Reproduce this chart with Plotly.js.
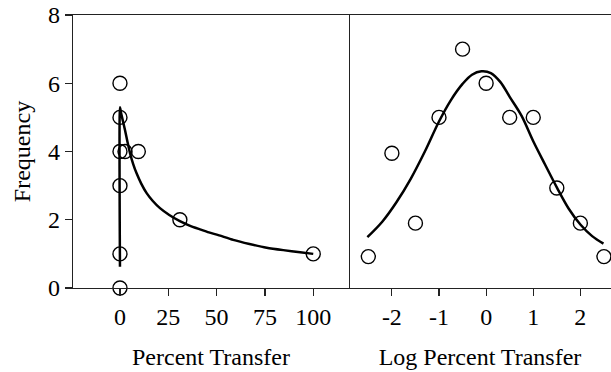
<!DOCTYPE html>
<html>
<head>
<meta charset="utf-8">
<script src="https://cdn.plot.ly/plotly-3.0.1.min.js"></script>
<style>html,body{margin:0;padding:0;background:#fff;}#chart{width:611px;height:372px;}</style>
</head>
<body>
<div id="chart"></div>
<script>
// Left panel: percent transfer histogram points
const pctX = [0, 0, 0, 0, 0, 0, 2.6, 9.5, 31, 100];
const pctY = [0, 1, 3, 4, 5, 6, 4, 4, 2, 1];
// Left panel fitted curve
const pctCurveX = [0, 0, 0.5, 1.5, 2.6, 3.9, 5.2, 6.8, 8.6, 11, 13.8, 17, 20.7, 25.5, 31, 36, 41.4, 46, 50.9, 58.6, 67, 75.9, 84.5, 93.2, 100];
const pctCurveY = [0.62, 5.3, 5.15, 4.9, 4.63, 4.28, 3.95, 3.64, 3.36, 3.06, 2.78, 2.55, 2.34, 2.14, 1.96, 1.83, 1.72, 1.63, 1.55, 1.41, 1.29, 1.18, 1.11, 1.05, 1.0];
// Right panel: log percent transfer histogram points
const logX = [-2.5, -2, -1.5, -1, -0.5, 0, 0.5, 1, 1.5, 2, 2.5];
const logY = [0.92, 3.95, 1.9, 5, 7, 6, 5, 5, 2.93, 1.9, 0.92];
// Right panel fitted curve
const logCurveX = [-2.52, -2.2, -1.9, -1.6, -1.3, -1.0, -0.75, -0.5, -0.3, -0.1, 0.1, 0.3, 0.5, 0.75, 1.0, 1.25, 1.5, 1.75, 2.0, 2.25, 2.49];
const logCurveY = [1.49, 1.95, 2.52, 3.2, 4.0, 4.88, 5.5, 5.98, 6.25, 6.35, 6.3, 6.04, 5.6, 5.05, 4.3, 3.62, 2.95, 2.33, 1.86, 1.52, 1.3];
// Tick labels
const pctTicks = [0, 25, 50, 75, 100];
const logTicks = [-2, -1, 0, 1, 2];
const logTickText = ["-2", "-1", "0", "1", "2"];
const yTicks = [0, 2, 4, 6, 8];

const FONT = "Liberation Serif";
const FS = 24;
const marker = {symbol: 'circle-open', size: 14, color: '#000', line: {width: 1.4, color: '#000'}};

const data = [
  {x: pctCurveX, y: pctCurveY, xaxis: 'x', yaxis: 'y', mode: 'lines', line: {color: '#000', width: 2.5, shape: 'spline', smoothing: 0.6}, hoverinfo: 'skip'},
  {x: pctX, y: pctY, xaxis: 'x', yaxis: 'y', mode: 'markers', marker: marker, cliponaxis: false},
  {x: logCurveX, y: logCurveY, xaxis: 'x2', yaxis: 'y2', mode: 'lines', line: {color: '#000', width: 2.5, shape: 'spline', smoothing: 1}, hoverinfo: 'skip'},
  {x: logX, y: logY, xaxis: 'x2', yaxis: 'y2', mode: 'markers', marker: marker, cliponaxis: false}
];

const d = 276 / 538;
const axBase = {showgrid: false, zeroline: false, showline: true, linecolor: '#222', linewidth: 1.3,
  ticks: 'outside', ticklen: 7, tickwidth: 1.2, tickcolor: '#222', tickfont: {family: FONT, size: FS, color: '#000'}};

const layout = {
  width: 611, height: 372,
  margin: {l: 73, r: 0, t: 15, b: 84},
  paper_bgcolor: '#fff', plot_bgcolor: '#fff',
  showlegend: false,
  font: {family: FONT, size: FS, color: '#000'},
  xaxis: Object.assign({}, axBase, {domain: [0, d], range: [-24.3, 118.5], tickvals: pctTicks, mirror: true, anchor: 'y',
    title: {text: 'Percent Transfer', font: {family: FONT, size: FS, color: '#000'}, standoff: 19}}),
  xaxis2: Object.assign({}, axBase, {domain: [d, 1], range: [-2.91, 2.65], tickvals: logTicks, ticktext: logTickText, mirror: true, anchor: 'y2',
    title: {text: 'Log Percent Transfer', font: {family: FONT, size: FS, color: '#000'}, standoff: 19}}),
  yaxis: Object.assign({}, axBase, {range: [0, 8], tickvals: yTicks, mirror: true, anchor: 'x',
    title: {text: 'Frequency', font: {family: FONT, size: FS, color: '#000'}, standoff: 10}}),
  yaxis2: {range: [0, 8], anchor: 'x2', showline: false, showgrid: false, zeroline: false, showticklabels: false, ticks: ''}
};

Plotly.newPlot('chart', data, layout, {staticPlot: true, displayModeBar: false});
</script>
</body>
</html>
